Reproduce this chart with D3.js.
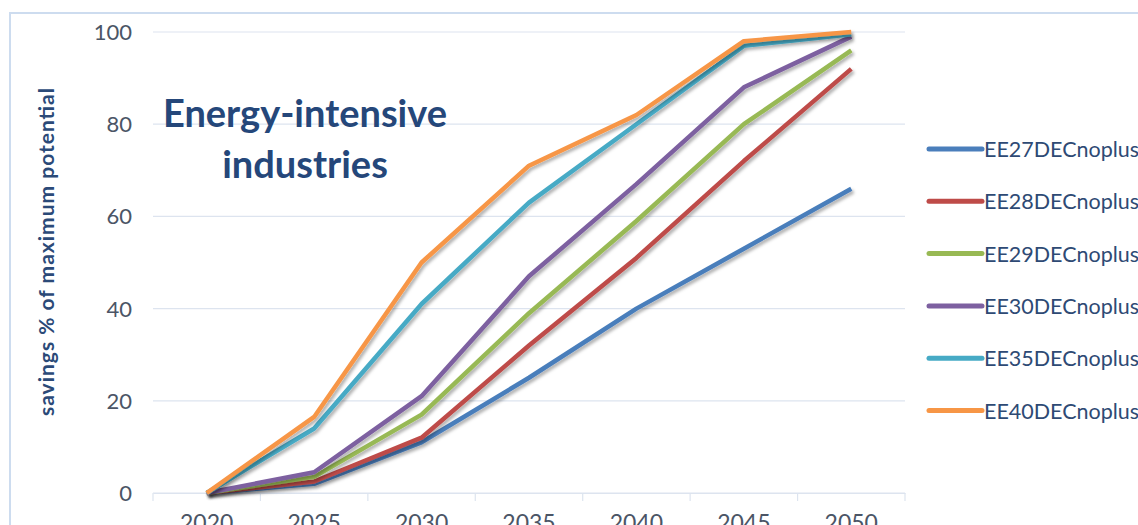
<!DOCTYPE html>
<html>
<head>
<meta charset="utf-8">
<script src="https://cdn.jsdelivr.net/npm/d3@7/dist/d3.min.js"></script>
<style>
  body { margin: 0; background: #fff; overflow: hidden; }
  svg { display: block; }
</style>
</head>
<body>
<div id="container"></div>
<script>
// data
var anos = ["2020", "2025", "2030", "2035", "2040", "2045", "2050"];
var series = ["EE27DECnoplus", "EE28DECnoplus", "EE29DECnoplus", "EE30DECnoplus", "EE35DECnoplus", "EE40DECnoplus"];
var ee27 = [0, 2, 11, 25, 40, 53, 66];
var ee28 = [0, 2.5, 12, 32, 51, 72, 92];
var ee29 = [0, 3.5, 17, 39, 59, 80, 96];
var ee30 = [0, 4.5, 21, 47, 67, 88, 99];
var ee35 = [0, 14, 41, 63, 80, 97, 99.5];
var ee40 = [0, 16.5, 50, 71, 82, 98, 100];
var yTicks = [0, 20, 40, 60, 80, 100];
var cores = ["#4a7ebb", "#be4b48", "#98b954", "#7d60a0", "#46aac5", "#f79646"];

var valores = [ee27, ee28, ee29, ee30, ee35, ee40];

var w = 1138;
var h = 525;
var svg = d3.select("div#container")
            .append("svg")
            .attr("width", w)
            .attr("height", h);

var defs = svg.append("defs");
var sombra = defs.append("filter").attr("id", "sombra")
    .attr("x", "-5%").attr("y", "-5%").attr("width", "115%").attr("height", "115%");
sombra.append("feDropShadow")
    .attr("dx", 2).attr("dy", 2.5).attr("stdDeviation", 1.5)
    .attr("flood-color", "#000").attr("flood-opacity", 0.3);

// moldura
svg.append("line").attr("x1", 10).attr("x2", w).attr("y1", 13).attr("y2", 13)
    .attr("stroke", "#cddcef").attr("stroke-width", 2);
svg.append("line").attr("x1", 10).attr("x2", 10).attr("y1", 12).attr("y2", h)
    .attr("stroke", "#cddcef").attr("stroke-width", 2);

var x = d3.scaleBand().domain(anos).range([153, 905]);
var y = d3.scaleLinear().domain([0, 100]).range([493, 32]);

// grade
svg.selectAll(".grade")
    .data(yTicks)
    .enter()
    .append("line")
    .attr("x1", 153).attr("x2", 905)
    .attr("y1", function(d){ return y(d); })
    .attr("y2", function(d){ return y(d); })
    .attr("stroke", "#dde4ef").attr("stroke-width", 1.2);

// eixo y
svg.selectAll(".ylab")
    .data(yTicks)
    .enter()
    .append("text")
    .attr("x", 132)
    .attr("y", function(d){ return y(d) + 8; })
    .attr("text-anchor", "end")
    .attr("font-family", "Lato, sans-serif")
    .attr("font-size", 22)
    .attr("fill", "#4b5566")
    .text(function(d){ return d; });

// eixo x
var xAxis = d3.axisBottom(x).tickSize(0).tickPadding(22);
var gx = svg.append("g").attr("transform", "translate(0," + y(0) + ")").call(xAxis);
gx.select(".domain").attr("stroke", "#dde4ef").attr("stroke-width", 1.2);
gx.selectAll("text")
    .attr("font-family", "Lato, sans-serif")
    .attr("font-size", 23)
    .attr("fill", "#4b5566");
var limites = anos.map(function(a){ return x(a); }).concat([x.range()[1]]);
gx.selectAll(".lim")
    .data(limites)
    .enter()
    .append("line")
    .attr("x1", function(d){ return d; }).attr("x2", function(d){ return d; })
    .attr("y1", 0).attr("y2", 8)
    .attr("stroke", "#dde4ef").attr("stroke-width", 1.2);

// titulo do eixo
svg.append("text")
    .attr("transform", "translate(54,252) rotate(-90)")
    .attr("text-anchor", "middle")
    .attr("font-family", "Lato, sans-serif")
    .attr("font-weight", "bold")
    .attr("font-size", 21)
    .attr("textLength", 328)
    .attr("lengthAdjust", "spacing")
    .attr("fill", "#2b4a78")
    .text("savings % of maximum potential");

// titulo
var titulo = svg.append("text")
    .attr("text-anchor", "middle")
    .attr("font-family", "Lato, sans-serif")
    .attr("font-weight", "bold")
    .attr("font-size", 38)
    .attr("fill", "#25477a");
titulo.append("tspan").attr("x", 305).attr("y", 127).text("Energy-intensive");
titulo.append("tspan").attr("x", 305).attr("y", 178).text("industries");

// linhas
var linha = d3.line()
    .x(function(d, i){ return x(anos[i]) + x.bandwidth() / 2; })
    .y(function(d){ return y(d); });

svg.selectAll(".serie")
    .data(valores)
    .enter()
    .append("path")
    .attr("class", "serie")
    .attr("d", linha)
    .attr("fill", "none")
    .attr("stroke", function(d, i){ return cores[i]; })
    .attr("stroke-width", 4.5)
    .attr("stroke-linejoin", "round")
    .attr("filter", "url(#sombra)");

// legenda
var leg = svg.selectAll(".leg")
    .data(series)
    .enter()
    .append("g")
    .attr("transform", function(d, i){ return "translate(929," + (149 + i * 52.3) + ")"; });
leg.append("line")
    .attr("x1", 0).attr("x2", 53).attr("y1", 0).attr("y2", 0)
    .attr("stroke", function(d, i){ return cores[i]; })
    .attr("stroke-width", 5)
    .attr("stroke-linecap", "round");
leg.append("text")
    .attr("x", 55).attr("y", 8)
    .attr("font-family", "Lato, sans-serif")
    .attr("font-size", 21.5)
    .attr("fill", "#2e4a74")
    .text(function(d){ return d; });
</script>
</body>
</html>
